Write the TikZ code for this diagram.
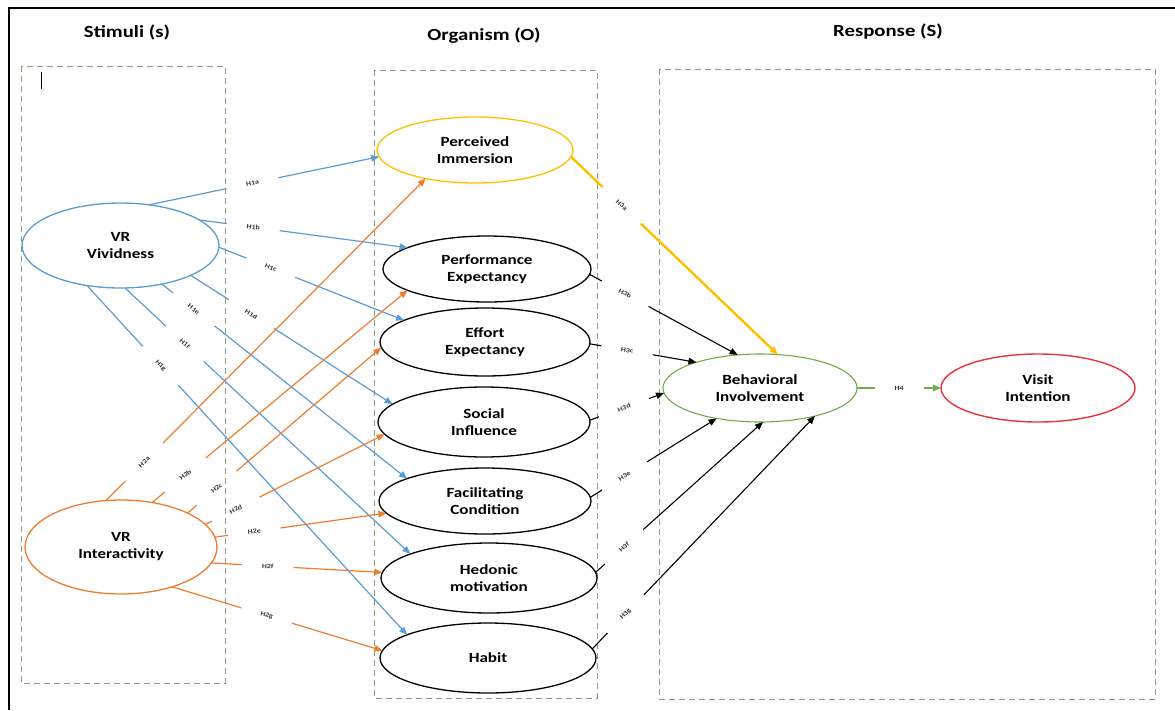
\documentclass[tikz,border=0pt]{standalone}
\usepackage{fontspec}
\setmainfont{Carlito}[FakeStretch=1.22]
\usetikzlibrary{arrows.meta,shapes.geometric}
\definecolor{cblue}{HTML}{5B9BD5}
\definecolor{corange}{HTML}{ED7D31}
\definecolor{cgold}{HTML}{FFC000}
\definecolor{cgreen}{HTML}{70AD47}
\definecolor{cred}{HTML}{E8333D}
\definecolor{cbox}{HTML}{8A9E7E}
\newcommand{\hlink}[6]{%
  \path (#2) -- node[lbl,pos=#4] (#5) {#6} (#3);
  \draw[#1,shorten >=19pt] (#2) -- (#5);
  \draw[#1,shorten <=19pt,-{Triangle[length=8pt,width=6.5pt]}] (#5) -- (#3);
}
\begin{document}
\begin{tikzpicture}[x=1pt,y=-1pt,
  lbl/.style={font=\fontsize{6.5}{7.5}\selectfont\bfseries, text=black!80, sloped, inner xsep=1pt, inner ysep=1pt, outer sep=0pt},
  ell/.style={ellipse, inner sep=0pt, outer sep=0pt, line width=1.3pt, fill=white, align=center, font=\fontsize{14}{17}\selectfont\bfseries},
  title/.style={font=\fontsize{17}{20}\selectfont\bfseries},
  box/.style={draw=cbox, line width=0.9pt, dash pattern=on 6pt off 4pt},
  bl/.style={cblue, line width=1.2pt},
  or/.style={corange, line width=1.2pt},
  bk/.style={black, line width=1.1pt},
  gd/.style={cgold, line width=2.4pt},
  gr/.style={cgreen, line width=1.5pt}]
\useasboundingbox (0,0) rectangle (1175,710);
% frame
\draw[line width=2.5pt] (9,710) -- (9,8) -- (1175,8);
\draw[line width=1pt] (41,72) -- (41,89);
% titles
\node[title] (tS) at (127,32) {Stimuli (s)};
\node[title] (tO) at (484,36) {Organism (O)};
\node[title] (tR) at (888,32) {Response (S)};
% boxes
\draw[box] (21,66) rectangle (225,683);
\draw[box] (374,70) rectangle (597,698);
\draw[box] (659,69) rectangle (1155,699);
% nodes
\node[ell, draw=cblue, minimum width=197pt, minimum height=85pt] (viv) at (120.5,245.5) {VR\\Vividness};
\node[ell, draw=corange, minimum width=192pt, minimum height=94pt] (int) at (121,547) {VR\\Interactivity};
\node[ell, draw=cgold, minimum width=196pt, minimum height=66pt] (pi) at (475,150) {Perceived\\Immersion};
\node[ell, draw=black, minimum width=208pt, minimum height=66pt] (pe) at (487,269) {Performance\\Expectancy};
\node[ell, draw=black, minimum width=210pt, minimum height=68pt] (ee) at (485,342) {Effort\\Expectancy};
\node[ell, draw=black, minimum width=212pt, minimum height=70pt] (si) at (484,422) {Social\\Influence};
\node[ell, draw=black, minimum width=212pt, minimum height=66pt] (fc) at (485,501) {Facilitating\\Condition};
\node[ell, draw=black, minimum width=216pt, minimum height=70pt] (hm) at (489,578) {Hedonic\\motivation};
\node[ell, draw=black, minimum width=216pt, minimum height=70pt] (hb) at (488,658) {Habit};
\node[ell, draw=cgreen, line width=1.1pt, minimum width=194pt, minimum height=68pt] (bi) at (760,388) {Behavioral\\Involvement};
\node[ell, draw=cred, line width=1.4pt, minimum width=194pt, minimum height=68pt] (vi) at (1038,388) {Visit\\Intention};
% H1
\hlink{bl}{viv.55}{pi.184}{.45}{l1a}{H1a}
\hlink{bl}{viv.18}{pe.165}{.26}{l1b}{H1b}
\hlink{bl}{viv.-1}{ee.165}{.28}{l1c}{H1c}
\hlink{bl}{viv.-23}{si.169}{.3}{l1d}{H1d}
\hlink{bl}{viv.-43}{fc.164}{.13}{l1e}{H1e}
\hlink{bl}{viv.-84}{hm.163}{.21}{l1f}{H1f}
\hlink{bl}{viv.-130}{hb.164}{.23}{l1g}{H1g}
% H2
\hlink{or}{int.108}{pi.210}{.12}{l2a}{H2a}
\hlink{or}{int.55}{pe.195}{.13}{l2b}{H2b}
\hlink{or}{int.27}{ee.183}{.15}{l2c}{H2c}
\hlink{or}{int.15}{si.187}{.17}{l2d}{H2d}
\hlink{or}{int.6}{fc.187}{.23}{l2e}{H2e}
\hlink{or}{int.-10}{hm.177}{.33}{l2f}{H2f}
\hlink{or}{int.-38}{hb.176}{.45}{l2g}{H2g}
% H3
\hlink{gd}{pi.-4}{bi.62}{.245}{l3a}{H3a}
\hlink{bk}{pe.-3}{bi.124}{.24}{l3b}{H3b}
\hlink{bk}{ee.-1}{bi.158}{.35}{l3c}{H3c}
\hlink{bk}{si.1}{bi.183}{.46}{l3d}{H3d}
\hlink{bk}{fc.2}{bi.215}{.27}{l3e}{H3e}
\hlink{bk}{hm.3}{bi.-85}{.17}{l3f}{H3f}
\hlink{bk}{hb.5}{bi.-27}{.15}{l3g}{H3g}
% H4
\hlink{gr}{bi.0}{vi.180}{.5}{l4}{H4}
\end{tikzpicture}
\end{document}
